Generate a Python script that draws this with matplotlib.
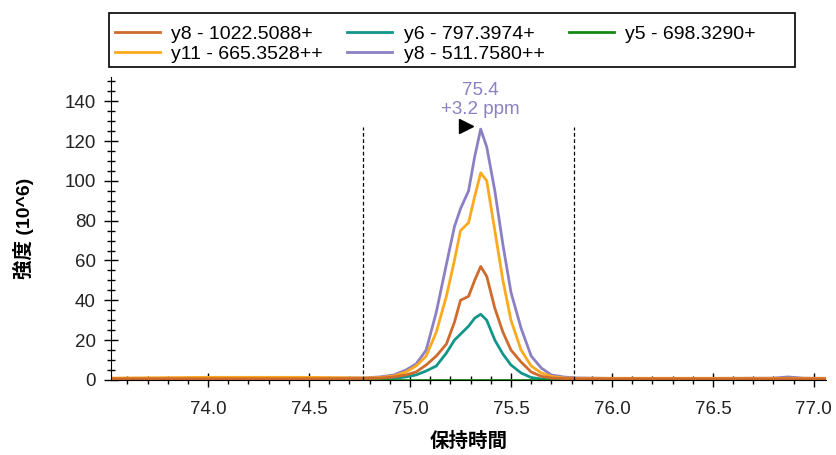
import numpy as np
import matplotlib
matplotlib.use('Agg')
import matplotlib.pyplot as plt
from matplotlib.ticker import MultipleLocator
from matplotlib.patches import Rectangle

plt.rcParams['font.family'] = ['Liberation Sans', 'Noto Sans CJK JP']

# retention time (min)
rt = [73.52, 74.0, 74.5, 74.76, 74.85, 74.92, 74.98, 75.03, 75.08, 75.13, 75.18,
      75.22, 75.25, 75.29, 75.32, 75.35, 75.38, 75.42, 75.46, 75.50, 75.55,
      75.60, 75.65, 75.70, 75.76, 75.82, 76.0, 76.5, 76.8, 76.87, 76.95, 77.06]

# intensities (10^6)
y8_1022 = [0.6, 0.6, 0.6, 0.7, 0.9, 1.5, 2.5, 4.0, 7.5, 12, 18, 29, 40, 42, 50, 57,
           52, 36, 24, 15, 9, 4, 1.8, 1.0, 0.7, 0.6, 0.6, 0.6, 0.6, 0.6, 0.6, 0.6]
y11_665 = [0.9, 1.3, 1.3, 1.0, 1.2, 2.0, 4.0, 7.0, 12, 24, 42, 60, 75, 79, 92, 104,
           100, 75, 50, 30, 15, 7, 3.5, 1.8, 1.0, 0.8, 0.8, 0.8, 0.8, 0.8, 0.8, 0.8]
y6_797 = [0.3, 0.3, 0.3, 0.3, 0.5, 0.8, 1.5, 2.5, 4.5, 7.0, 13.5, 20, 23, 27, 31, 33,
          30, 20, 13, 7.5, 3.5, 1.2, 0.5, 0.3, 0.3, 0.3, 0.3, 0.3, 0.3, 0.3, 0.3, 0.3]
y5_698 = [0.2] * 32
y8_511 = [0.8, 0.8, 0.8, 1.0, 1.5, 2.5, 5.0, 8.0, 15, 34, 58, 77, 86, 95, 112, 126,
          117, 95, 68, 44, 26, 12, 6, 2.5, 1.5, 1.0, 0.8, 0.8, 0.9, 1.5, 0.9, 0.8]

c_brown = '#cf6b2c'
c_orange = '#fba91e'
c_teal = '#14958a'
c_green = '#138a13'
c_purple = '#8c80c4'

peak_rt = 75.35
boundary = [74.765, 75.81]

fig = plt.figure(figsize=(8.36, 4.55), dpi=100)
ax = fig.add_axes([0.133, 0.165, 0.855, 0.665])

l5, = ax.plot(rt, y8_511, color=c_purple, lw=2)
l3, = ax.plot(rt, y6_797, color=c_teal, lw=2)
l4, = ax.plot(rt, y5_698, color=c_green, lw=2)
l2, = ax.plot(rt, y11_665, color=c_orange, lw=2)
l1, = ax.plot(rt, y8_1022, color=c_brown, lw=2)

ax.vlines(boundary, 0, 127, colors='black', linestyles=(0, (3, 2)), lw=0.9)
ax.plot([75.275], [127.5], marker='>', color='black', markersize=10, ls='none')
ax.text(peak_rt, 131.5, '75.4\n+3.2 ppm', color=c_purple, ha='center', va='bottom',
        fontsize=13.5, linespacing=1.2)

ax.set_xlim(73.52, 77.06)
ax.set_ylim(0, 152)
ax.xaxis.set_major_locator(MultipleLocator(0.5))
ax.xaxis.set_minor_locator(MultipleLocator(0.1))
ax.yaxis.set_minor_locator(MultipleLocator(5))
ax.set_yticks(range(0, 141, 20))
ax.xaxis.set_major_formatter(matplotlib.ticker.FormatStrFormatter('%.1f'))
ax.tick_params(which='major', direction='inout', length=10, width=1, labelsize=13.5,
               labelcolor='#222222')
ax.tick_params(which='minor', direction='inout', length=6, width=1)
ax.tick_params(axis='x', pad=10)
ax.tick_params(axis='y', pad=6)
for s in ['top', 'right']:
    ax.spines[s].set_visible(False)

ax.set_xlabel('保持時間', fontsize=14, fontweight='bold', labelpad=10)
ax.set_ylabel('強度 (10^6)', fontsize=14, fontweight='bold', labelpad=22)

handles = [l1, l2, l3, l5, l4]
labels = ['y8 - 1022.5088+', 'y11 - 665.3528++', 'y6 - 797.3974+',
          'y8 - 511.7580++', 'y5 - 698.3290+']
leg = fig.legend(handles, labels, ncol=3, loc='upper left',
                 bbox_to_anchor=(0.1304, 0.958), fontsize=14, frameon=False,
                 handlelength=2.3, columnspacing=1.25, borderpad=0.3,
                 labelspacing=0.15, handletextpad=0.6, borderaxespad=0)
fig.patches.append(Rectangle((0.1304, 0.8527), 0.8206, 0.1187, transform=fig.transFigure,
                             fill=False, edgecolor='black', lw=1.2))

plt.savefig('out.png', dpi=100)
